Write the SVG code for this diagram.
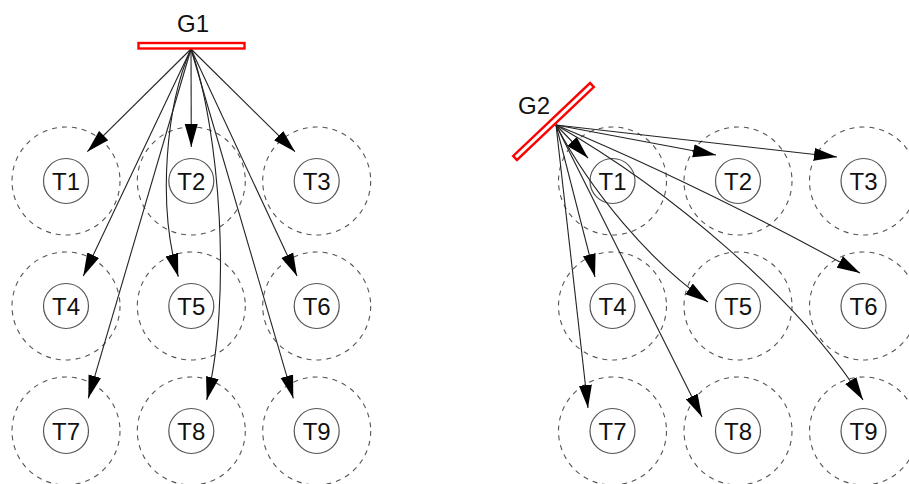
<svg xmlns="http://www.w3.org/2000/svg" width="909" height="484" viewBox="0 0 909 484">
<style>
.zone{fill:none;stroke:#555;stroke-width:1.1;stroke-dasharray:5,5}
.node{fill:#fff;stroke:#555;stroke-width:1.2}
.lbl{font-family:"Liberation Sans",Arial,sans-serif;font-size:24px;fill:#111;text-anchor:middle}
.bar{fill:#fff;stroke:#f00;stroke-width:2.4}
.edge{fill:none;stroke:#222;stroke-width:1.1}
</style>
<defs>
<marker id="arr" markerUnits="userSpaceOnUse" markerWidth="24" markerHeight="14" refX="23" refY="7" orient="auto" viewBox="0 0 24 14">
<path d="M0,0.5 L23,7 L0,13.5 z" fill="#000"/>
</marker>
</defs>
<rect width="909" height="484" fill="#fff"/>

<g id="left-targets">
<g id="L-T1"><circle class="zone" cx="66" cy="181" r="54"/><circle class="node" cx="66" cy="181" r="22.5"/><text class="lbl" x="66" y="189.5">T1</text></g>
<g id="L-T2"><circle class="zone" cx="191.3" cy="181" r="54"/><circle class="node" cx="191.3" cy="181" r="22.5"/><text class="lbl" x="191.3" y="189.5">T2</text></g>
<g id="L-T3"><circle class="zone" cx="316.7" cy="181" r="54"/><circle class="node" cx="316.7" cy="181" r="22.5"/><text class="lbl" x="316.7" y="189.5">T3</text></g>
<g id="L-T4"><circle class="zone" cx="66" cy="306" r="54"/><circle class="node" cx="66" cy="306" r="22.5"/><text class="lbl" x="66" y="314.5">T4</text></g>
<g id="L-T5"><circle class="zone" cx="191.3" cy="306" r="54"/><circle class="node" cx="191.3" cy="306" r="22.5"/><text class="lbl" x="191.3" y="314.5">T5</text></g>
<g id="L-T6"><circle class="zone" cx="316.7" cy="306" r="54"/><circle class="node" cx="316.7" cy="306" r="22.5"/><text class="lbl" x="316.7" y="314.5">T6</text></g>
<g id="L-T7"><circle class="zone" cx="66" cy="431" r="54"/><circle class="node" cx="66" cy="431" r="22.5"/><text class="lbl" x="66" y="439.5">T7</text></g>
<g id="L-T8"><circle class="zone" cx="191.3" cy="431" r="54"/><circle class="node" cx="191.3" cy="431" r="22.5"/><text class="lbl" x="191.3" y="439.5">T8</text></g>
<g id="L-T9"><circle class="zone" cx="316.7" cy="431" r="54"/><circle class="node" cx="316.7" cy="431" r="22.5"/><text class="lbl" x="316.7" y="439.5">T9</text></g>
</g>

<g id="right-targets">
<g id="R-T1"><circle class="zone" cx="612.5" cy="181" r="54"/><circle class="node" cx="612.5" cy="181" r="22.5"/><text class="lbl" x="612.5" y="189.5">T1</text></g>
<g id="R-T2"><circle class="zone" cx="738" cy="181" r="54"/><circle class="node" cx="738" cy="181" r="22.5"/><text class="lbl" x="738" y="189.5">T2</text></g>
<g id="R-T3"><circle class="zone" cx="863.5" cy="181" r="54"/><circle class="node" cx="863.5" cy="181" r="22.5"/><text class="lbl" x="863.5" y="189.5">T3</text></g>
<g id="R-T4"><circle class="zone" cx="612.5" cy="306" r="54"/><circle class="node" cx="612.5" cy="306" r="22.5"/><text class="lbl" x="612.5" y="314.5">T4</text></g>
<g id="R-T5"><circle class="zone" cx="738" cy="306" r="54"/><circle class="node" cx="738" cy="306" r="22.5"/><text class="lbl" x="738" y="314.5">T5</text></g>
<g id="R-T6"><circle class="zone" cx="863.5" cy="306" r="54"/><circle class="node" cx="863.5" cy="306" r="22.5"/><text class="lbl" x="863.5" y="314.5">T6</text></g>
<g id="R-T7"><circle class="zone" cx="612.5" cy="431" r="54"/><circle class="node" cx="612.5" cy="431" r="22.5"/><text class="lbl" x="612.5" y="439.5">T7</text></g>
<g id="R-T8"><circle class="zone" cx="738" cy="431" r="54"/><circle class="node" cx="738" cy="431" r="22.5"/><text class="lbl" x="738" y="439.5">T8</text></g>
<g id="R-T9"><circle class="zone" cx="863.5" cy="431" r="54"/><circle class="node" cx="863.5" cy="431" r="22.5"/><text class="lbl" x="863.5" y="439.5">T9</text></g>
</g>

<g id="connectors">
<path class="edge" marker-end="url(#arr)" d="M191,49 L87.3,151.7"/>
<path class="edge" marker-end="url(#arr)" d="M191,49 L191.3,147"/>
<path class="edge" marker-end="url(#arr)" d="M191,49 L295,151.7"/>
<path class="edge" marker-end="url(#arr)" d="M191,49 L83.3,276"/>
<path class="edge" marker-end="url(#arr)" d="M191,49 C166,105 157,205 178.3,276.7"/>
<path class="edge" marker-end="url(#arr)" d="M191,49 L297,276"/>
<path class="edge" marker-end="url(#arr)" d="M191,49 L88.3,398.3"/>
<path class="edge" marker-end="url(#arr)" d="M191,49 C220,130 232,300 206.7,400"/>
<path class="edge" marker-end="url(#arr)" d="M191,49 L293.3,398.3"/>

<path class="edge" marker-end="url(#arr)" d="M556,125 L588,158"/>
<path class="edge" marker-end="url(#arr)" d="M556,125 L716,155"/>
<path class="edge" marker-end="url(#arr)" d="M556,125 L837,157"/>
<path class="edge" marker-end="url(#arr)" d="M556,125 L595,277"/>
<path class="edge" marker-end="url(#arr)" d="M556,125 C590,190 650,262 708,302"/>
<path class="edge" marker-end="url(#arr)" d="M556,125 Q700,185 860,273"/>
<path class="edge" marker-end="url(#arr)" d="M556,125 L588,408"/>
<path class="edge" marker-end="url(#arr)" d="M556,125 L702,417"/>
<path class="edge" marker-end="url(#arr)" d="M556,125 C670,190 800,300 863,400"/>
</g>

<g id="G1">
<rect class="bar" x="138.5" y="43" width="106" height="5.5"/>
<text class="lbl" x="193" y="32">G1</text>
</g>
<g id="G2">
<rect class="bar" x="-53" y="-2.75" width="106" height="5.5" transform="translate(553.5,121.5) rotate(-43.5)"/>
<text class="lbl" x="534" y="114">G2</text>
</g>
</svg>
